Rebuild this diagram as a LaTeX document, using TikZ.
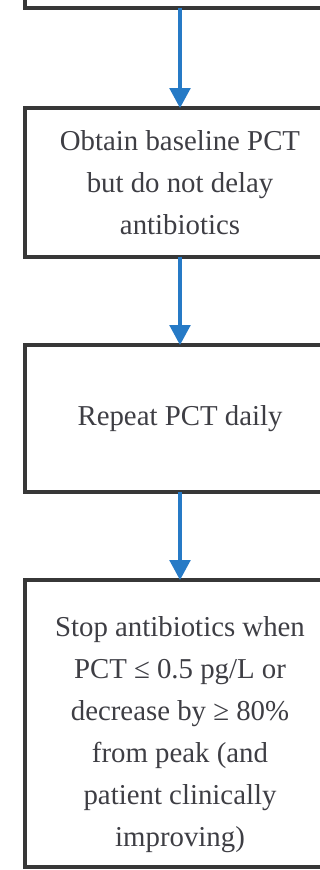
\documentclass[tikz,border=0pt]{standalone}
\usepackage{fontspec}
\setmainfont{Liberation Serif}
\usetikzlibrary{arrows.meta,positioning}
\definecolor{flowblue}{RGB}{38,122,198}
\definecolor{boxgray}{RGB}{55,55,55}
\definecolor{txtgray}{RGB}{62,62,68}

\begin{document}
\begin{tikzpicture}[every node/.style={font=\fontsize{20.5}{30}\selectfont, text=txtgray},
        stepbox/.style={draw=boxgray, line width=2.4pt, minimum width=7.75cm, align=center, inner sep=0pt, outer sep=0pt},
        flow/.style={draw=flowblue, line width=2.2pt, -{Triangle[length=0.5cm,width=0.52cm]}}]
                \useasboundingbox (0,0) rectangle (8,-21.75);
                \clip (0,0) rectangle (8,-21.75);
                \node[stepbox, minimum height=2cm, anchor=south] (onset) at (4.5,-0.2) {};
                \node[stepbox, minimum height=3.725cm, below=2.5cm of onset] (baseline) {Obtain baseline PCT\\but do not delay\\antibiotics};
                \node[stepbox, minimum height=3.675cm, below=2.2cm of baseline] (repeat) {Repeat PCT daily};
                \node[stepbox, minimum height=7.175cm, below=2.2cm of repeat] (stop) {\rule{0pt}{0.4cm}\\[-0.4cm]Stop antibiotics when\\PCT ≤ 0.5 pg/L or\\decrease by ≥ 80\%\\from peak (and\\patient clinically\\improving)};
                \draw[flow] (onset) -- (baseline);
                \draw[flow] (baseline) -- (repeat);
                \draw[flow] (repeat) -- (stop);
            \end{tikzpicture}
\end{document}
